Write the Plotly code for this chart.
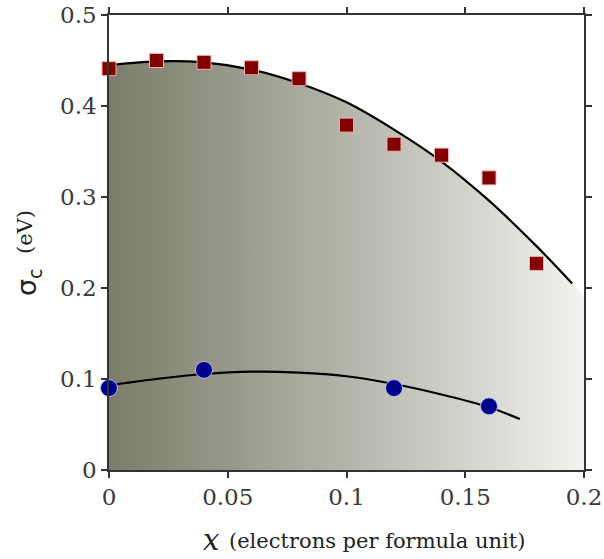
import plotly.graph_objects as go

# Data
sq_x = [0.0, 0.02, 0.04, 0.06, 0.08, 0.10, 0.12, 0.14, 0.16, 0.18]
sq_y = [0.441, 0.450, 0.448, 0.442, 0.430, 0.379, 0.358, 0.346, 0.321, 0.227]

ci_x = [0.0, 0.04, 0.12, 0.16]
ci_y = [0.090, 0.110, 0.090, 0.070]

# upper fitted curve
up_x = [0.0, 0.02, 0.04, 0.06, 0.08, 0.10, 0.12, 0.14, 0.16, 0.18, 0.195]
up_y = [0.445, 0.449, 0.448, 0.440, 0.425, 0.404, 0.374, 0.339, 0.296, 0.246, 0.205]

# shaded region boundary (curve continued to the right edge)
fill_x = up_x + [0.2]
fill_y = up_y + [0.190]

# lower fitted curve
lo_x = [0.0, 0.02, 0.04, 0.06, 0.08, 0.10, 0.12, 0.14, 0.16, 0.173]
lo_y = [0.093, 0.100, 0.1055, 0.108, 0.107, 0.103, 0.0945, 0.083, 0.069, 0.056]

x_ticks = [0, 0.05, 0.1, 0.15, 0.2]
x_tick_text = ["0", "0.05", "0.1", "0.15", "0.2"]
y_ticks = [0, 0.1, 0.2, 0.3, 0.4, 0.5]
y_tick_text = ["0", "0.1", "0.2", "0.3", "0.4", "0.5"]

fig = go.Figure()

fig.add_trace(go.Scatter(
    x=fill_x, y=fill_y, mode="none", fill="tozeroy",
    fillgradient=dict(type="horizontal",
                      colorscale=[[0, "#7c7c6b"], [0.5, "#b4b4a9"], [1, "#f2f2f0"]]),
    line_shape="spline", hoverinfo="skip", showlegend=False))

fig.add_trace(go.Scatter(x=up_x, y=up_y, mode="lines", line=dict(color="black", width=2.2, shape="spline"),
                         showlegend=False))
fig.add_trace(go.Scatter(x=lo_x, y=lo_y, mode="lines", line=dict(color="black", width=2.2, shape="spline"),
                         showlegend=False))

fig.add_trace(go.Scatter(x=sq_x, y=sq_y, mode="markers",
                         marker=dict(symbol="square", size=14, color="#830000",
                                     line=dict(color="#e8b0b0", width=1)),
                         showlegend=False, cliponaxis=False))
fig.add_trace(go.Scatter(x=ci_x, y=ci_y, mode="markers",
                         marker=dict(symbol="circle", size=17, color="#00008a",
                                     line=dict(color="#b8c0e8", width=1)),
                         showlegend=False, cliponaxis=False))

axis_common = dict(showline=True, linecolor="#333333", linewidth=1.6, mirror="allticks",
                   ticks="outside", ticklen=6, tickwidth=1.6, tickcolor="#333333",
                   showgrid=False, zeroline=False, automargin=False,
                   tickfont=dict(family="DejaVu Serif", size=23, color="#3a3a3a"))

fig.update_xaxes(range=[0, 0.2], tickvals=x_ticks, ticktext=x_tick_text, **axis_common)
fig.update_yaxes(range=[0, 0.5], tickvals=y_ticks, ticktext=y_tick_text, **axis_common)

PW, PH = 475.0, 455.0
def px(xp):
    return (xp - 109) / PW
def py(yp):
    return (470 - yp) / PH

fig.update_layout(
    width=604, height=559,
    margin=dict(l=109, r=20, t=15, b=89),
    paper_bgcolor="white", plot_bgcolor="white",
    showlegend=False,
    annotations=[
        dict(text="<i>x</i>", xref="paper", yref="paper", x=px(211), y=py(540),
             xanchor="center", yanchor="middle", showarrow=False,
             font=dict(family="DejaVu Serif", size=29, color="#222222")),
        dict(text="(electrons per formula unit)", xref="paper", yref="paper", x=px(227), y=py(541),
             xanchor="left", yanchor="middle", showarrow=False,
             font=dict(family="DejaVu Serif", size=21, color="#222222")),
        dict(text="σ<sub>c</sub>", xref="paper", yref="paper", x=px(28), y=py(282),
             xanchor="center", yanchor="middle", textangle=-90, showarrow=False,
             font=dict(family="DejaVu Sans", size=27, color="#222222")),
        dict(text="(eV)", xref="paper", yref="paper", x=px(25), y=py(232),
             xanchor="center", yanchor="middle", textangle=-90, showarrow=False,
             font=dict(family="DejaVu Serif", size=21, color="#222222")),
    ],
)

fig.write_html("out.html")
